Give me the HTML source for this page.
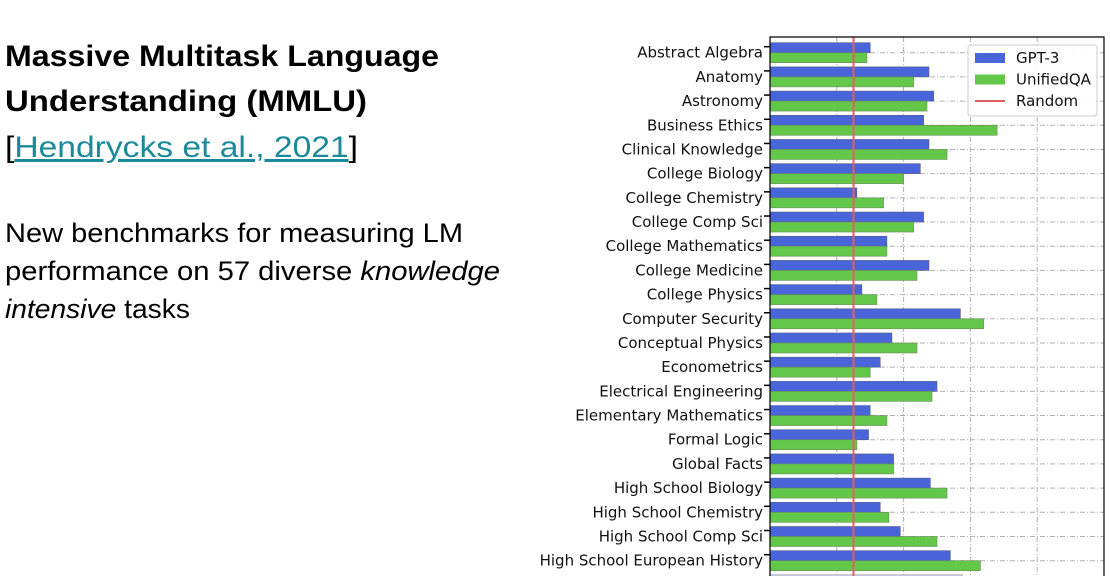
<!DOCTYPE html>
<html><head><meta charset="utf-8"><style>
html,body{margin:0;padding:0;background:#fff;width:1110px;height:588px;overflow:hidden}
svg{display:block;font-family:"Liberation Sans",sans-serif}
</style></head><body>
<svg id="root" width="1110" height="588" viewBox="0 0 1110 588">
<g>
<text x="5" y="66" font-size="30" font-weight="bold" textLength="434" lengthAdjust="spacingAndGlyphs">Massive Multitask Language</text>
<text x="5" y="111" font-size="30" font-weight="bold" textLength="362" lengthAdjust="spacingAndGlyphs">Understanding (MMLU)</text>
<text x="5" y="157" font-size="30" textLength="353" lengthAdjust="spacingAndGlyphs"><tspan>[</tspan><tspan fill="#1a8a9a" text-decoration="underline">Hendrycks et al., 2021</tspan><tspan>]</tspan></text>
<text x="5" y="242" font-size="27" textLength="458" lengthAdjust="spacingAndGlyphs">New benchmarks for measuring LM</text>
<text x="5" y="280" font-size="27" textLength="495" lengthAdjust="spacingAndGlyphs">performance on 57 diverse <tspan font-style="italic">knowledge</tspan></text>
<text x="5" y="318" font-size="27" textLength="185" lengthAdjust="spacingAndGlyphs"><tspan font-style="italic">intensive</tspan> tasks</text>
</g>
<g id="chart" font-family="'DejaVu Sans', sans-serif"></g>
</svg>
<script>
const categories=["Abstract Algebra","Anatomy","Astronomy","Business Ethics","Clinical Knowledge","College Biology","College Chemistry","College Comp Sci","College Mathematics","College Medicine","College Physics","Computer Security","Conceptual Physics","Econometrics","Electrical Engineering","Elementary Mathematics","Formal Logic","Global Facts","High School Biology","High School Chemistry","High School Comp Sci","High School European History"];
const gpt3=[30,47.6,49,46,47.6,45,26,46,35,47.6,27.5,57,36.5,33,50,30,29.5,37,48,33,39,54];
const unifiedqa=[29,43,47,68,53,40,34,43,35,44,32,64,44,30,48.5,35,26,37,53,35.6,50,63];
const xTicks=[0,20,40,60,80,100];
const randomBaseline=[25];
const NS="http://www.w3.org/2000/svg";
const g=document.getElementById('chart');
const X0=770,X1=1104,TOP=37,BOT=576,C0=52.7,STEP=24.19;
const xs=v=>X0+(v/100)*(X1-X0);
const yc=i=>C0+i*STEP;
function mk(t,a){const e=document.createElementNS(NS,t);for(const k in a)e.setAttribute(k,a[k]);g.appendChild(e);return e;}
xTicks.forEach(v=>{if(v===0||v===100)return;
 const e=mk('line',{x1:xs(v),x2:xs(v),y1:TOP,y2:BOT,stroke:'#b0b0b0','stroke-width':1,'stroke-dasharray':'5,2,1,2'});
 
 });
categories.forEach((c,i)=>{
 const e=mk('line',{x1:X0,x2:X1,y1:yc(i),y2:yc(i),stroke:'#b0b0b0','stroke-width':1,'stroke-dasharray':'5,2,1,2'});
 
 });
categories.forEach((c,i)=>{
 const b=mk('rect',{x:X0,y:yc(i)-10,width:xs(gpt3[i])-X0,height:10,fill:'#4866d9',stroke:'#5a5a8a','stroke-width':0.6});
 
 
 const u=mk('rect',{x:X0,y:yc(i),width:xs(unifiedqa[i])-X0,height:10,fill:'#63c74a',stroke:'#6a8a5a','stroke-width':0.6});
 
 
 const t=mk('text',{x:763,y:yc(i)+5,'font-size':15,'text-anchor':'end',fill:'#111'});t.textContent=c;
 
 
 const tk=mk('line',{x1:764,x2:770,y1:yc(i)-6,y2:yc(i)-6,stroke:'#000','stroke-width':1.5});
 
 
});
const cut=mk('line',{x1:X0,x2:963,y1:575,y2:575,stroke:'#8890b0','stroke-width':1});


const r=mk('line',{x1:xs(randomBaseline[0]),x2:xs(randomBaseline[0]),y1:TOP,y2:BOT,stroke:'#e06060','stroke-width':2});


const f=mk('path',{d:`M${X0} ${BOT}V${TOP}H${X1}V${BOT}`,fill:'none',stroke:'#000','stroke-width':1.2});


const lb=mk('rect',{x:968,y:45,width:129,height:71,rx:3,fill:'#fff','fill-opacity':0.9,stroke:'#ccc'});


const le=[['GPT-3','#4866d9','rect'],['UnifiedQA','#63c74a','rect'],['Random','#e06060','line']];
le.forEach((d,i)=>{const y=58+i*21.5;
 let p;
 if(d[2]==='rect')p=mk('rect',{x:975,y:y-5,width:30,height:10,fill:d[1]});
 else p=mk('line',{x1:975,x2:1005,y1:y,y2:y,stroke:d[1],'stroke-width':2});
 
 
 const t=mk('text',{x:1016,y:y+5,'font-size':15,fill:'#111'});t.textContent=d[0];
 
 });
</script>
</body></html>
